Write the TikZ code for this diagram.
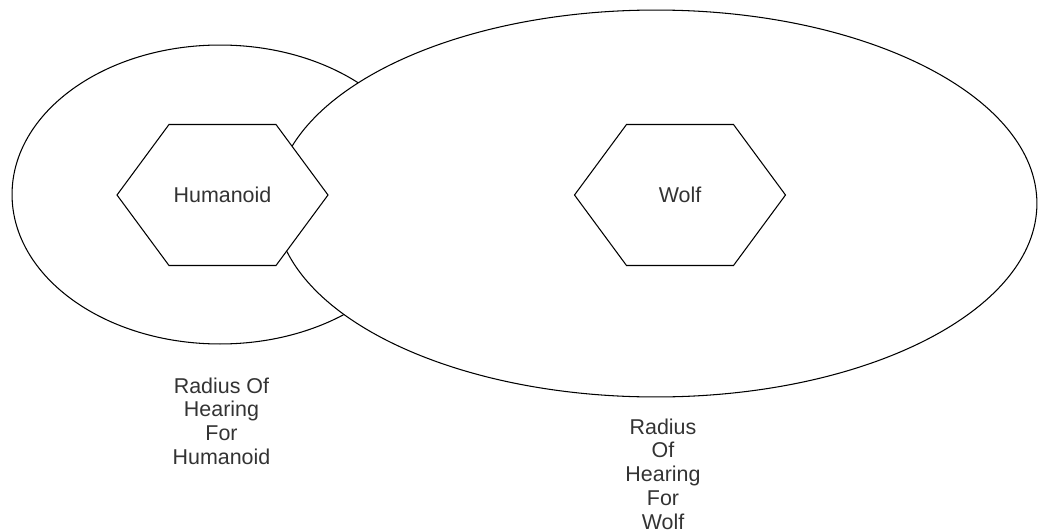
\documentclass[tikz,border=0pt]{standalone}
\usepackage{fontspec}
\setmainfont{Liberation Sans}
\usepackage{tikz}
\usetikzlibrary{shapes.geometric}
\tikzset{
  zone/.style={draw, ellipse, fill=white, inner sep=0pt, line width=0.6pt},
  hexline/.style={draw, fill=white, line width=0.6pt, line join=miter},
  tag/.style={inner sep=0pt, align=center, text=black!80, font=\fontsize{12.2}{13.5}\selectfont}
}
\newcommand{\creature}[4]{%
  \begin{scope}[shift={(#1,#2)}]
    \draw[hexline] (-105.5,0) -- (-53.5,-70.5) -- (53.5,-70.5) -- (105.5,0)
      -- (53.5,70.5) -- (-53.5,70.5) -- cycle;
    \node[tag] (#4) at (0,0) {#3};
  \end{scope}
}

\begin{document}
\begin{tikzpicture}[x=0.02cm, y=-0.02cm]
        \useasboundingbox (0,0) rectangle (1039,531);

        % Hearing ranges
        \node[zone, minimum width=8.32cm, minimum height=5.98cm] (hearhum)  at (220,194.5) {};
        \node[zone, minimum width=15.24cm, minimum height=7.74cm] (hearwolf) at (656,203.5) {};

        % Creatures
        \creature{222.5}{195}{Humanoid}{humanoid}
        \creature{680}{195}{Wolf}{wolf}

        % Captions
        \node[tag] (caphum)  at (221.5,421) {Radius Of\\Hearing\\For\\Humanoid};
        \node[tag] (capwolf) at (663,474) {Radius\\Of\\Hearing\\For\\Wolf};
    \end{tikzpicture}
\end{document}
